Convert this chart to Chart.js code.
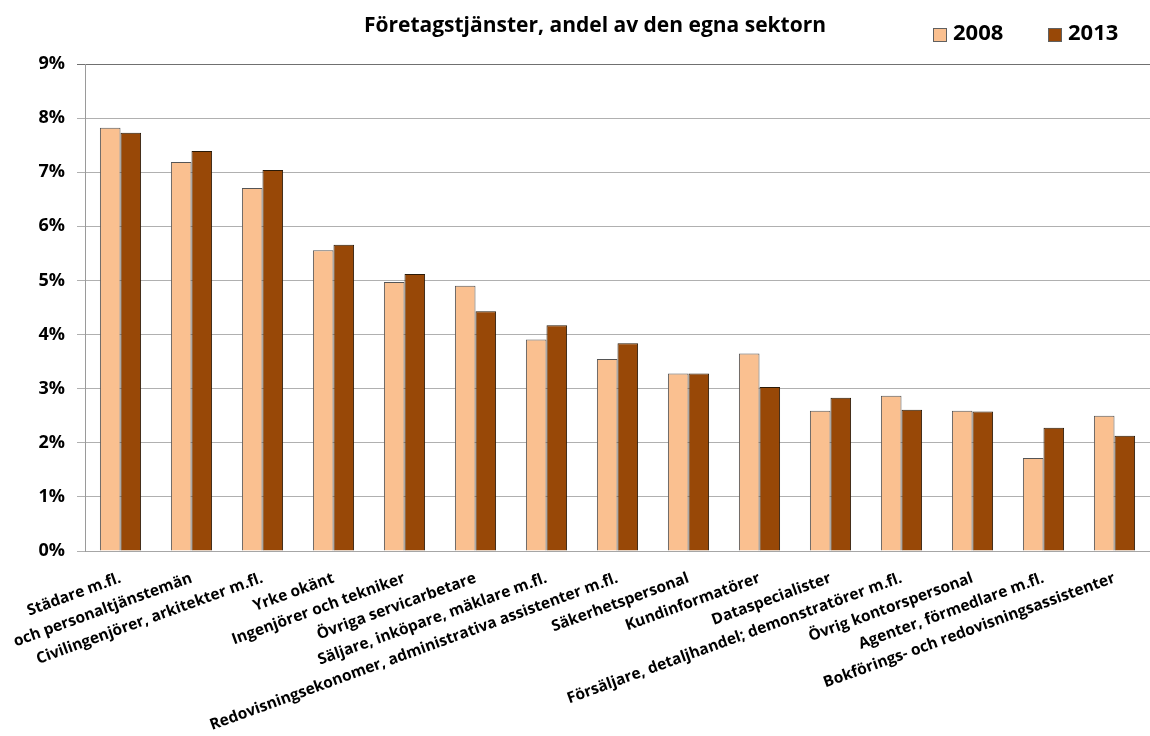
<!DOCTYPE html>
<html>
<head>
<meta charset="utf-8">
<script src="https://cdn.jsdelivr.net/npm/chart.js@4.4.1/dist/chart.umd.min.js"></script>
<style>
    html, body { margin: 0; padding: 0; background: #fff; }
    #wrap { width: 1150px; height: 736px; position: relative; }
</style>
</head>
<body>
<div id="wrap"><canvas id="grafik"></canvas></div>
<script>
const titel = 'Företagstjänster, andel av den egna sektorn';

const yrken = [
    'Städare m.fl.',
    'och personaltjänstemän',
    'Civilingenjörer, arkitekter m.fl.',
    'Yrke okänt',
    'Ingenjörer och tekniker',
    'Övriga servicarbetare',
    'Säljare, inköpare, mäklare m.fl.',
    'Redovisningsekonomer, administrativa assistenter m.fl.',
    'Säkerhetspersonal',
    'Kundinformatörer',
    'Dataspecialister',
    'Försäljare, detaljhandel; demonstratörer m.fl.',
    'Övrig kontorspersonal',
    'Agenter, förmedlare m.fl.',
    'Bokförings- och redovisningsassistenter'
];

const andel2008 = [7.82, 7.19, 6.71, 5.56, 4.97, 4.90, 3.91, 3.55, 3.28, 3.65, 2.59, 2.87, 2.59, 1.72, 2.50];
const andel2013 = [7.73, 7.39, 7.04, 5.66, 5.12, 4.43, 4.17, 3.84, 3.28, 3.03, 2.83, 2.61, 2.58, 2.28, 2.13];

const yTicks = [0, 1, 2, 3, 4, 5, 6, 7, 8, 9];

const FONT = '"Open Sans", sans-serif';

// titel och legend ritas själva, på samma rad
const rubrikPlugin = {
    id: 'rubrik',
    afterDraw(chart) {
        const ctx = chart.ctx;
        ctx.save();
        ctx.fillStyle = '#000';
        ctx.textBaseline = 'middle';
        ctx.font = 'bold 21px ' + FONT;
        ctx.textAlign = 'center';
        ctx.fillText(titel, 595, 26);

        ctx.font = 'bold 22px ' + FONT;
        ctx.textAlign = 'left';
        const pos = [933, 1048];
        chart.data.datasets.forEach((ds, i) => {
            const x = pos[i];
            ctx.fillStyle = ds.backgroundColor;
            ctx.fillRect(x, 28, 14, 14);
            ctx.strokeStyle = '#606060';
            ctx.lineWidth = 1;
            ctx.strokeRect(x + 0.5, 28.5, 13, 13);
            ctx.fillStyle = '#000';
            ctx.fillText(ds.label, x + 20, 34);
        });
        ctx.restore();
    }
};

const ctx = document.getElementById('grafik').getContext('2d');
new Chart(ctx, {
    type: 'bar',
    data: {
        labels: yrken,
        datasets: [
            {
                label: '2008',
                data: andel2008,
                backgroundColor: '#FAC090',
                borderColor: '#555555',
                borderWidth: 1
            },
            {
                label: '2013',
                data: andel2013,
                backgroundColor: '#984807',
                borderColor: '#2a1a08',
                borderWidth: 1
            }
        ]
    },
    options: {
        responsive: true,
        maintainAspectRatio: false,
        animation: false,
        layout: { padding: { top: 64, right: 0, left: 0, bottom: 0 } },
        plugins: {
            legend: { display: false },
            title: { display: false },
            tooltip: { enabled: false }
        },
        datasets: {
            bar: { categoryPercentage: 0.58, barPercentage: 1.0 }
        },
        scales: {
            x: {
                grid: { display: false },
                border: { color: '#a6a6a6', width: 1 },
                ticks: {
                    autoSkip: false,
                    minRotation: 20,
                    maxRotation: 20,
                    color: '#000',
                    padding: 10,
                    font: { family: FONT, size: 15.5, weight: 'bold' }
                },
                afterFit(scale) { scale.height = 185; }
            },
            y: {
                min: 0,
                max: 9,
                afterBuildTicks(scale) { scale.ticks = yTicks.map(v => ({ value: v })); },
                grid: {
                    color: c => c.tick && c.tick.value === 9 ? '#707070' : '#b0b0b0',
                    tickLength: 8,
                    lineWidth: 1
                },
                border: { color: '#9a9a9a', width: 1 },
                ticks: {
                    color: '#000',
                    padding: 12,
                    font: { family: FONT, size: 18, weight: 'bold' },
                    callback: v => v + '%'
                },
                afterFit(scale) { scale.width = 85; }
            }
        }
    },
    plugins: [rubrikPlugin]
});
</script>
</body>
</html>
